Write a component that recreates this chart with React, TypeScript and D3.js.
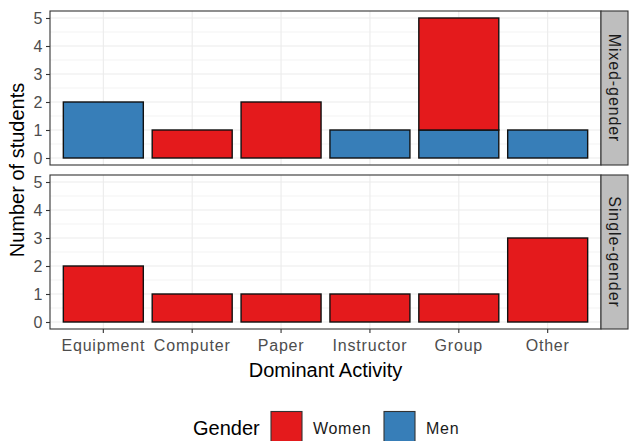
import React, { useEffect, useRef } from "react"
import * as d3 from "d3"

const activities = ["Equipment", "Computer", "Paper", "Instructor", "Group", "Other"]
const genders = ["Women", "Men"]
const facets = ["Mixed-gender", "Single-gender"]
// counts per activity, one array per facet x gender
const mixedWomen = [0, 1, 2, 0, 4, 0]
const mixedMen = [2, 0, 0, 1, 1, 1]
const singleWomen = [2, 1, 1, 1, 1, 3]
const singleMen = [0, 0, 0, 0, 0, 0]
const yTicks = [0, 1, 2, 3, 4, 5]

const colors: Record<string, string> = { Women: "#E41A1C", Men: "#377EB8" }
const FONT = "'Liberation Sans', Arial, sans-serif"

const App = () => {
  const ref = useRef<SVGSVGElement | null>(null)

  useEffect(() => {
    const width = 631
    const height = 441
    const svg = d3.select(ref.current).attr("width", width).attr("height", height)
    svg.selectAll("*").remove()

    const left = 50
    const right = 601
    const panels = [
      { name: facets[0], top: 11, bottom: 165, women: mixedWomen, men: mixedMen },
      { name: facets[1], top: 175, bottom: 329, women: singleWomen, men: singleMen },
    ]

    const x = d3
      .scaleBand<string>()
      .domain(activities)
      .range([left, right])
      .paddingInner(0.1)
      .paddingOuter(0.15)

    panels.forEach((p, pi) => {
      const y = d3.scaleLinear().domain([-0.25, 5.25]).range([p.bottom, p.top])
      const g = svg.append("g")

      g.append("rect")
        .attr("x", left)
        .attr("y", p.top)
        .attr("width", right - left)
        .attr("height", p.bottom - p.top)
        .attr("fill", "white")

      // minor grid
      g.append("g")
        .selectAll("line")
        .data(d3.range(0.5, 5.5, 1))
        .join("line")
        .attr("x1", left)
        .attr("x2", right)
        .attr("y1", (d) => y(d))
        .attr("y2", (d) => y(d))
        .attr("stroke", "#EBEBEB")
        .attr("stroke-width", 0.6)

      // major grid
      g.append("g")
        .selectAll("line")
        .data(yTicks)
        .join("line")
        .attr("x1", left)
        .attr("x2", right)
        .attr("y1", (d) => y(d))
        .attr("y2", (d) => y(d))
        .attr("stroke", "#EBEBEB")
        .attr("stroke-width", 1.1)
      g.append("g")
        .selectAll("line")
        .data(activities)
        .join("line")
        .attr("x1", (d) => x(d)! + x.bandwidth() / 2)
        .attr("x2", (d) => x(d)! + x.bandwidth() / 2)
        .attr("y1", p.top)
        .attr("y2", p.bottom)
        .attr("stroke", "#EBEBEB")
        .attr("stroke-width", 1.1)

      // stacked bars, Men at the bottom
      const rows = activities.map((a, i) => ({ activity: a, Women: p.women[i], Men: p.men[i] }))
      const stacked = d3.stack<any>().keys(["Men", "Women"])(rows)
      stacked.forEach((layer) => {
        g.append("g")
          .selectAll("rect")
          .data(layer.filter((d) => d[1] - d[0] > 0))
          .join("rect")
          .attr("x", (d) => x(d.data.activity)!)
          .attr("width", x.bandwidth())
          .attr("y", (d) => y(d[1]))
          .attr("height", (d) => y(d[0]) - y(d[1]))
          .attr("fill", colors[layer.key])
          .attr("stroke", "#111")
          .attr("stroke-width", 1.4)
      })

      g.append("rect")
        .attr("x", left)
        .attr("y", p.top)
        .attr("width", right - left)
        .attr("height", p.bottom - p.top)
        .attr("fill", "none")
        .attr("stroke", "#333333")
        .attr("stroke-width", 1.1)

      // y axis
      const ya = g
        .append("g")
        .attr("transform", `translate(${left},0)`)
        .call(d3.axisLeft(y).tickValues(yTicks).tickSize(4).tickPadding(3).tickFormat(d3.format("d")))
      ya.select(".domain").remove()
      ya.selectAll("line").attr("stroke", "#333333").attr("stroke-width", 1.1)
      ya.selectAll("text")
        .attr("fill", "#4D4D4D")
        .attr("font-family", FONT)
        .attr("font-size", 16)
        .attr("letter-spacing", 0.5)

      // strip
      g.append("rect")
        .attr("x", right)
        .attr("y", p.top)
        .attr("width", 27)
        .attr("height", p.bottom - p.top)
        .attr("fill", "#BEBEBE")
        .attr("stroke", "#333333")
        .attr("stroke-width", 1.1)
      g.append("text")
        .attr("transform", `translate(${right + 13.5},${(p.top + p.bottom) / 2}) rotate(90)`)
        .attr("text-anchor", "middle")
        .attr("dominant-baseline", "central")
        .attr("fill", "#1A1A1A")
        .attr("font-family", FONT)
        .attr("font-size", 16)
        .attr("letter-spacing", 0.9)
        .text(p.name)

      if (pi === panels.length - 1) {
        const xa = g
          .append("g")
          .attr("transform", `translate(0,${p.bottom})`)
          .call(d3.axisBottom(x).tickSize(4).tickPadding(7))
        xa.select(".domain").remove()
        xa.selectAll("line").attr("stroke", "#333333").attr("stroke-width", 1.1)
        xa.selectAll("text")
          .attr("fill", "#4D4D4D")
          .attr("font-family", FONT)
          .attr("font-size", 16)
          .attr("letter-spacing", 0.8)
      }
    })

    // axis titles
    svg.append("text")
      .attr("x", (left + right) / 2)
      .attr("y", 377)
      .attr("text-anchor", "middle")
      .attr("font-family", FONT)
      .attr("font-size", 20)
      .text("Dominant Activity")
    svg.append("text")
      .attr("transform", `translate(24,${(11 + 329) / 2}) rotate(-90)`)
      .attr("text-anchor", "middle")
      .attr("font-family", FONT)
      .attr("font-size", 20)
      .text("Number of students")

    // legend
    const leg = svg.append("g")
    leg.append("text")
      .attr("x", 193)
      .attr("y", 435)
      .attr("font-family", FONT)
      .attr("font-size", 20)
      .text("Gender")
    const keyX = [271, 384]
    genders.forEach((gname, i) => {
      leg.append("rect")
        .attr("x", keyX[i])
        .attr("y", 411.5)
        .attr("width", 31)
        .attr("height", 32)
        .attr("fill", colors[gname])
        .attr("stroke", "#333333")
        .attr("stroke-width", 1.1)
      leg.append("text")
        .attr("x", keyX[i] + 42)
        .attr("y", 434)
        .attr("font-family", FONT)
        .attr("font-size", 16)
        .attr("letter-spacing", 0.7)
        .attr("fill", "#1A1A1A")
        .text(gname)
    })
  }, [])

  return (
    <svg
      ref={ref}
      style={{ position: "absolute", left: 0, top: 0, background: "white", display: "block" }}
    ></svg>
  )
}

export default App
